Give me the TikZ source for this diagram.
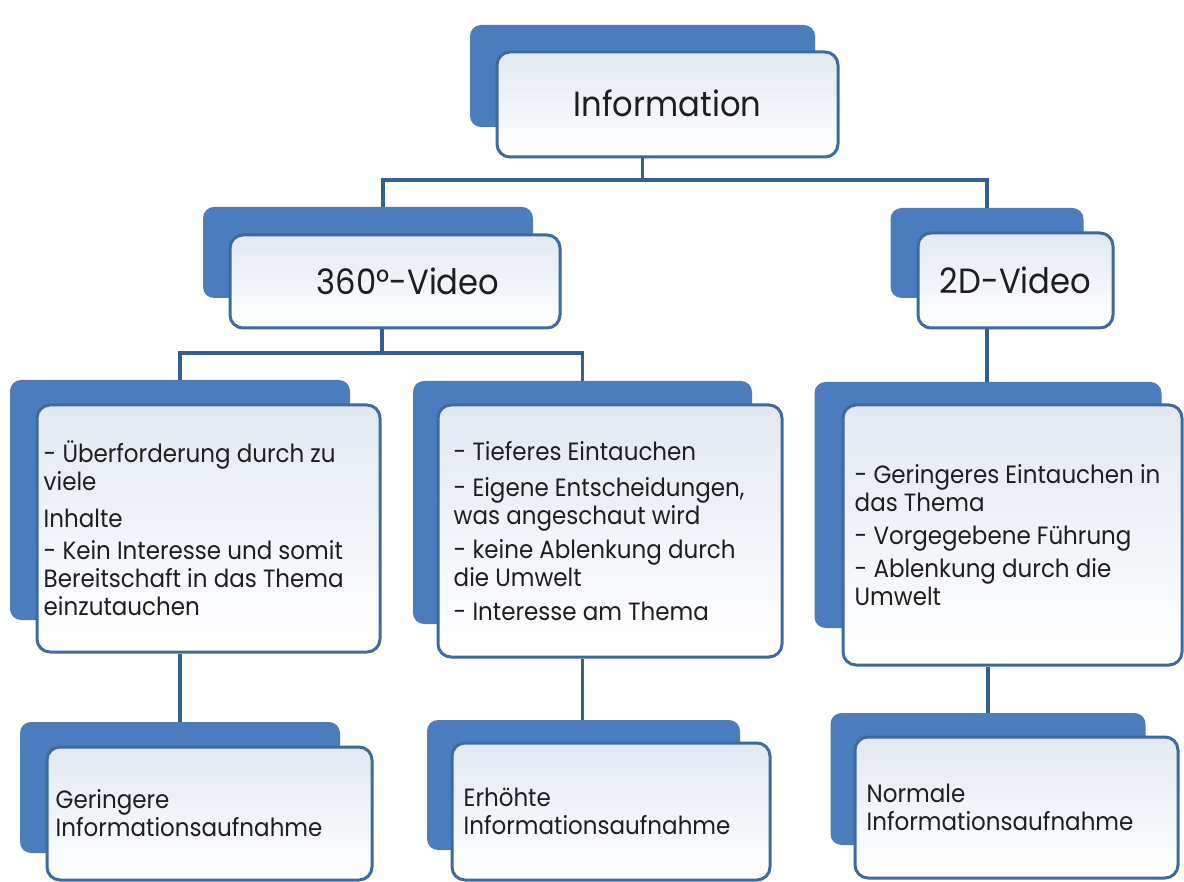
\documentclass[tikz,border=0pt]{standalone}
\usepackage{fontspec}
\setmainfont{Poppins}[FakeStretch=0.92]
\usetikzlibrary{calc}

\definecolor{backblue}{HTML}{4A7CBE}
\definecolor{edgeblue}{HTML}{3E6A9C}
\definecolor{linkblue}{HTML}{33608F}
\definecolor{paneltop}{HTML}{E2E8F1}
\definecolor{panelmid}{HTML}{ECF0F6}
\definecolor{ink}{HTML}{1E1E1E}

\tikzset{
  backcard/.style={fill=backblue, rounded corners=11pt, inner sep=0pt, draw=none},
  frontcard/.style={draw=edgeblue, line width=3pt, rounded corners=13pt, inner sep=0pt,
    top color=paneltop, middle color=panelmid, bottom color=white},
  title/.style={text=ink, inner sep=0pt, font=\fontsize{35}{38}\selectfont},
  body/.style={text=ink, inner sep=0pt, anchor=west, align=left,
    font=\fontsize{25}{28}\selectfont},
  link/.style={draw=linkblue, line width=3.2pt},
}

\begin{document}
\begin{tikzpicture}[x=1pt, y=-1pt]
\useasboundingbox[fill=white] (0,0) rectangle (1184,882);

% --- top level
\node[backcard, minimum width=345pt, minimum height=102pt] (infoB) at (642.5,76) {};
\node[frontcard, minimum width=341pt, minimum height=105pt] (infoF) at (667.5,104.5) {};
\node[title] (infoT) at ([yshift=1.5pt]infoF.center) {Information};

% --- second level
\node[backcard, minimum width=330pt, minimum height=91pt] (vidB) at (368,252.5) {};
\node[frontcard, minimum width=330pt, minimum height=93pt] (vidF) at (395,281.5) {};
\node[title] (vidT) at ([xshift=13pt]vidF.center) {360°-Video};

\node[backcard, minimum width=193pt, minimum height=90pt] (flatB) at (987,253) {};
\node[frontcard, minimum width=195pt, minimum height=95pt] (flatF) at (1015.5,280.5) {};
\node[title] (flatT) at (flatF.center) {2D-Video};

% --- third level
\node[backcard, minimum width=340pt, minimum height=240pt] (lmB) at (180,500) {};
\node[frontcard, minimum width=343pt, minimum height=247pt] (lmF) at (208.5,528.5) {};
\node[body] (lmT) at ([xshift=8pt]lmF.west) {- Überforderung durch zu\\viele\\[9pt]Inhalte\\[4pt]- Kein Interesse und somit\\Bereitschaft in das Thema\\einzutauchen};

\node[backcard, minimum width=339pt, minimum height=243pt] (mmB) at (582.5,502.5) {};
\node[frontcard, minimum width=344pt, minimum height=252pt] (mmF) at (610,531) {};
\node[body] (mmT) at ([xshift=17pt]mmF.west) {- Tieferes Eintauchen\\[8pt]- Eigene Entscheidungen,\\was angeschaut wird\\[6pt]- keine Ablenkung durch\\die Umwelt\\[6pt]- Interesse am Thema};

\node[backcard, minimum width=347pt, minimum height=246pt] (rmB) at (988,505) {};
\node[frontcard, minimum width=339pt, minimum height=260pt] (rmF) at (1012.5,535) {};
\node[body] (rmT) at ([xshift=13pt]rmF.west) {- Geringeres Eintauchen in\\das Thema\\[5pt]- Vorgegebene Führung\\[5pt]- Ablenkung durch die\\Umwelt};

% --- bottom level
\node[backcard, minimum width=320pt, minimum height=131pt] (lbB) at (180,787.5) {};
\node[frontcard, minimum width=325pt, minimum height=133pt] (lbF) at (209.5,813.5) {};
\node[body] (lbT) at ([xshift=10pt]lbF.west) {Geringere\\Informationsaufnahme};

\node[backcard, minimum width=313pt, minimum height=130pt] (mbB) at (583.5,785) {};
\node[frontcard, minimum width=318pt, minimum height=137pt] (mbF) at (611,811.5) {};
\node[body] (mbT) at ([xshift=13pt]mbF.west) {Erhöhte\\Informationsaufnahme};

\node[backcard, minimum width=315pt, minimum height=132pt] (rbB) at (988,779) {};
\node[frontcard, minimum width=323pt, minimum height=141pt] (rbF) at (1016.5,807.5) {};
\node[body] (rbT) at ([xshift=13pt]rbF.west) {Normale\\Informationsaufnahme};

% --- connectors
\coordinate (infoJ) at (642.5,180);
\draw[link] (infoB |- infoF.south) -- (infoJ);
\draw[link] (infoJ) -| ([xshift=15pt]vidB.north);
\draw[link] (infoJ) -| (flatB.north);

\coordinate (vidJ) at (382,353);
\draw[link] ([xshift=-13pt]vidF.south) -- (vidJ);
\draw[link] (vidJ) -| (lmB.north);
\draw[link] (vidJ) -| (mmB.north);

\draw[link] (flatB |- flatF.south) -- (flatB |- rmB.north);

\draw[link] (lmB |- lmF.south) -- (lmB |- lbB.north);
\draw[link] (mmB |- mmF.south) -- (mmB |- mbB.north);
\draw[link] (rmB |- rmF.south) -- (rmB |- rbB.north);
\end{tikzpicture}
\end{document}
